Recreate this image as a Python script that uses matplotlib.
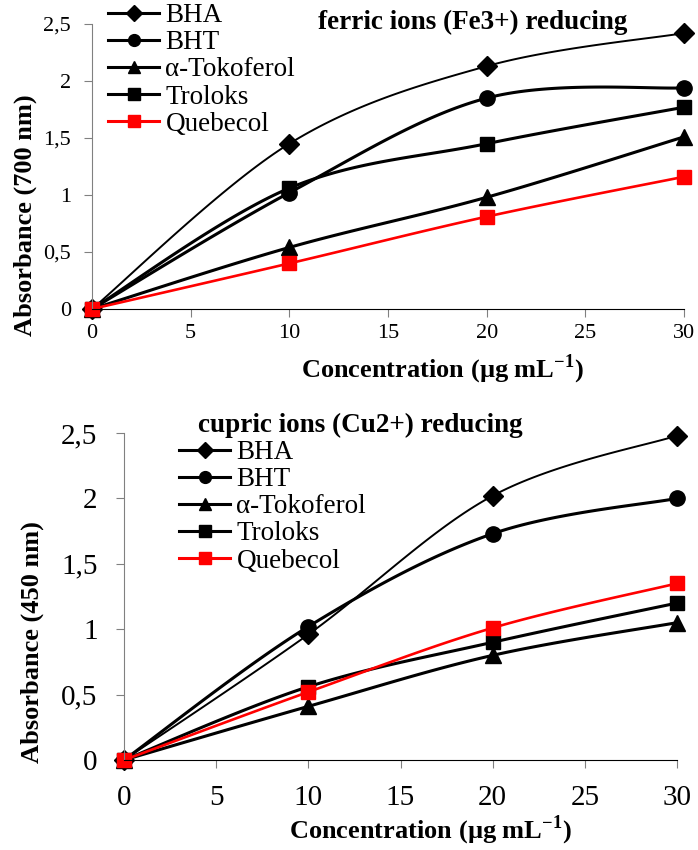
import numpy as np
import matplotlib
matplotlib.use('Agg')
import matplotlib.pyplot as plt
from matplotlib.lines import Line2D
from matplotlib.ticker import FuncFormatter

plt.rcParams['font.family'] = ['Liberation Serif', 'DejaVu Serif']
plt.rcParams['mathtext.fontset'] = 'custom'
plt.rcParams['mathtext.rm'] = 'Liberation Serif'
plt.rcParams['mathtext.bf'] = 'Liberation Serif:bold'

conc = [0, 10, 20, 30]
names = ['BHA', 'BHT', 'α-Tokoferol', 'Troloks', 'Quebecol']

# ferric ions (Fe3+) reducing, absorbance at 700 nm
fe_bha = [0, 1.45, 2.13, 2.42]
fe_bht = [0, 1.02, 1.85, 1.94]
fe_toko = [0, 0.54, 0.98, 1.51]
fe_trolox = [0, 1.06, 1.45, 1.77]
fe_queb = [0, 0.40, 0.81, 1.16]

# cupric ions (Cu2+) reducing, absorbance at 450 nm
cu_bha = [0, 0.96, 2.02, 2.48]
cu_bht = [0, 1.02, 1.73, 2.00]
cu_toko = [0, 0.41, 0.80, 1.05]
cu_trolox = [0, 0.56, 0.90, 1.20]
cu_queb = [0, 0.52, 1.01, 1.35]

# color, line width, marker, marker size on plot, marker size in legend
styles = [('k', 1.4, 'D', 10.5, 8.0), ('k', 2.2, 'o', 11, 8.5), ('k', 2.2, '^', 11, 9.0),
          ('k', 2.2, 's', 10, 8.0), ('#ff0000', 1.9, 's', 10.5, 8.0)]


def smooth(x, y, n=40):
    # excel-like smoothed line (catmull-rom bezier)
    x = np.asarray(x, float)
    y = np.asarray(y, float)
    xs, ys = [], []
    t = np.linspace(0, 1, n)
    for i in range(len(x) - 1):
        a = max(i - 1, 0)
        d = min(i + 2, len(x) - 1)
        c1x = x[i] + (x[i + 1] - x[a]) / 6
        c1y = y[i] + (y[i + 1] - y[a]) / 6
        c2x = x[i + 1] - (x[d] - x[i]) / 6
        c2y = y[i + 1] - (y[d] - y[i]) / 6
        bx = (1-t)**3*x[i] + 3*(1-t)**2*t*c1x + 3*(1-t)*t**2*c2x + t**3*x[i+1]
        by = (1-t)**3*y[i] + 3*(1-t)**2*t*c1y + 3*(1-t)*t**2*c2y + t**3*y[i+1]
        xs.extend(bx)
        ys.extend(by)
    return xs, ys


def comma(v, pos):
    return ('%g' % v).replace('.', ',')


def draw(ax, series, tick_fs, pad_y, pad_x):
    for vals, (c, lw, m, ms, _) in zip(series, styles):
        sx, sy = smooth(conc, vals)
        ax.plot(sx, sy, color=c, lw=lw, clip_on=False)
        ax.plot(conc, vals, ls='none', marker=m, ms=ms, color=c, clip_on=False)
    ax.set_xlim(0, 30)
    ax.set_ylim(0, 2.5)
    ax.set_xticks(np.arange(0, 31, 5))
    ax.set_yticks(np.arange(0, 2.51, 0.5))
    ax.yaxis.set_major_formatter(FuncFormatter(comma))
    ax.spines['top'].set_visible(False)
    ax.spines['right'].set_visible(False)
    ax.spines['left'].set_color('#808080')
    ax.spines['bottom'].set_color('k')
    ax.tick_params(axis='y', direction='out', length=6, color='#808080', labelsize=tick_fs, pad=pad_y)
    ax.tick_params(axis='x', direction='out', length=6, color='#808080', labelsize=tick_fs, pad=pad_x)
    handles = [Line2D([], [], color=c, lw=max(lw, 2.2), marker=m, ms=lms)
               for (c, lw, m, ms, lms) in styles]
    return handles


W, H = 698, 850
fig = plt.figure(figsize=(W / 100, H / 100), dpi=100)

ax1 = fig.add_axes([92 / W, 1 - 309 / H, 592 / W, 285 / H])
h = draw(ax1, [fe_bha, fe_bht, fe_toko, fe_trolox, fe_queb], 16, 9, 5)
ax1.legend(h, names, loc='upper left', bbox_to_anchor=(108 / W, 1 - 3 / H),
           bbox_transform=fig.transFigure, frameon=False, borderpad=0, borderaxespad=0,
           labelspacing=0.08, handlelength=1.9, handletextpad=0.22, fontsize=19.5)
fig.text(473 / W, 1 - 22 / H, 'ferric ions (Fe3+) reducing', ha='center', va='center',
         fontsize=19.5, fontweight='bold')
fig.text(25 / W, 1 - 215 / H, 'Absorbance (700 nm)', rotation=90, ha='center', va='center',
         fontsize=19, fontweight='bold')
fig.text(442 / W, 1 - 369 / H, r'Concentration (µg mL$^{\mathbf{-1}}$)', ha='center', va='center',
         fontsize=19, fontweight='bold')

ax2 = fig.add_axes([124 / W, 1 - 760 / H, 553 / W, 327 / H])
h = draw(ax2, [cu_bha, cu_bht, cu_toko, cu_trolox, cu_queb], 21, 13, 12)
ax2.legend(h, names, loc='upper left', bbox_to_anchor=(179 / W, 1 - 440 / H),
           bbox_transform=fig.transFigure, frameon=False, borderpad=0, borderaxespad=0,
           labelspacing=0.08, handlelength=1.9, handletextpad=0.22, fontsize=19.5)
fig.text(360 / W, 1 - 425 / H, 'cupric ions (Cu2+) reducing', ha='center', va='center',
         fontsize=19.5, fontweight='bold')
fig.text(32 / W, 1 - 642 / H, 'Absorbance (450 nm)', rotation=90, ha='center', va='center',
         fontsize=19, fontweight='bold')
fig.text(430 / W, 1 - 830 / H, r'Concentration (µg mL$^{\mathbf{-1}}$)', ha='center', va='center',
         fontsize=19, fontweight='bold')

fig.savefig('out.png', dpi=100)
